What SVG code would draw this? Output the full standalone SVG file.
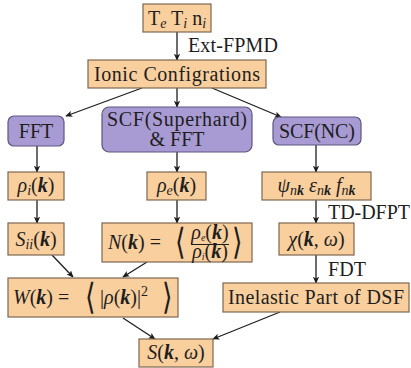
<svg xmlns="http://www.w3.org/2000/svg" width="411" height="368" viewBox="0 0 411 368">
<defs>
<marker id="ah" viewBox="0 0 10 10" refX="9" refY="5" markerWidth="7" markerHeight="7" markerUnits="userSpaceOnUse" orient="auto">
<path d="M0,0.5 L10,5 L0,9.5 L2.5,5 Z" fill="#1a1a1a"/>
</marker>
<style>
.o{fill:#f9cf9e;stroke:#7d6650;stroke-width:1.2}
.p{fill:#a89bd3;stroke:#5e5680;stroke-width:1.2}
.t{font-family:"Liberation Serif",serif;font-size:20px;fill:#1e1e1e}
.m{font-family:"Liberation Serif",serif;font-size:20px;fill:#1e1e1e;font-style:italic}
.b{font-weight:bold}
.r{font-style:normal}
.br{font-family:"Liberation Serif",serif;font-size:36px;fill:#1e1e1e}
.c{stroke:#1e1e1e;stroke-width:1.3;fill:none;marker-end:url(#ah)}
</style>
</defs>
<g id="connectors">
<line class="c" x1="177" y1="32" x2="177" y2="60"/>
<line class="c" x1="142" y1="88" x2="66" y2="116"/>
<line class="c" x1="177" y1="88" x2="177" y2="107"/>
<line class="c" x1="212" y1="88" x2="281" y2="117"/>
<line class="c" x1="37" y1="145" x2="37" y2="172"/>
<line class="c" x1="177" y1="152" x2="177" y2="172"/>
<line class="c" x1="316" y1="145" x2="316" y2="172"/>
<line class="c" x1="37" y1="200" x2="37" y2="223"/>
<line class="c" x1="177" y1="200" x2="177" y2="223"/>
<line class="c" x1="316" y1="200" x2="316" y2="223"/>
<line class="c" x1="52" y1="255" x2="73" y2="277"/>
<line class="c" x1="147" y1="262" x2="123" y2="277"/>
<line class="c" x1="316" y1="255" x2="316" y2="283"/>
<line class="c" x1="123" y1="318" x2="155" y2="339"/>
<line class="c" x1="280" y1="312" x2="213" y2="339"/>
<text class="t" x="188" y="52" font-size="19" textLength="90">Ext-FPMD</text>
<text class="t" x="328" y="219" font-size="19" textLength="82">TD-DFPT</text>
<text class="t" x="328" y="276" font-size="19" textLength="38">FDT</text>
</g>
<g id="inputs">
<rect class="o" x="143" y="4" width="68" height="28"/>
<text class="t" x="177" y="25" text-anchor="middle">T<tspan font-style="italic" font-size="14" dy="3">e</tspan><tspan dy="-3"> T</tspan><tspan font-style="italic" font-size="14" dy="3">i</tspan><tspan dy="-3"> n</tspan><tspan font-style="italic" font-size="14" dy="3">i</tspan></text>
</g>
<g id="ionic">
<rect class="o" x="88" y="60" width="178" height="28"/>
<text class="t" x="177" y="81" text-anchor="middle" font-size="21" textLength="166">Ionic Configrations</text>
</g>
<g id="fft">
<rect class="p" x="8" y="116" width="56" height="30" rx="6"/>
<text class="t" x="36" y="138" text-anchor="middle">FFT</text>
</g>
<g id="scf-superhard">
<rect class="p" x="102" y="107" width="150" height="45" rx="7"/>
<text class="t" x="177" y="126" text-anchor="middle" textLength="140">SCF(Superhard)</text>
<text class="t" x="177" y="146" text-anchor="middle">&amp; FFT</text>
</g>
<g id="scf-nc">
<rect class="p" x="273" y="117" width="88" height="28" rx="6"/>
<text class="t" x="317" y="138" text-anchor="middle" textLength="76">SCF(NC)</text>
</g>
<g id="rho-i">
<rect class="o" x="8" y="172" width="56" height="28"/>
<text class="m" x="36" y="192" text-anchor="middle">ρ<tspan font-size="14" dy="3">i</tspan><tspan class="r" dy="-3">(</tspan><tspan class="b">k</tspan><tspan class="r">)</tspan></text>
</g>
<g id="rho-e">
<rect class="o" x="147" y="172" width="59" height="28"/>
<text class="m" x="176.5" y="192" text-anchor="middle">ρ<tspan font-size="14" dy="3">e</tspan><tspan class="r" dy="-3">(</tspan><tspan class="b">k</tspan><tspan class="r">)</tspan></text>
</g>
<g id="psi">
<rect class="o" x="262" y="172" width="109" height="28"/>
<text class="m" x="316.5" y="192" text-anchor="middle">ψ<tspan font-size="14" dy="3">n<tspan class="b">k</tspan></tspan><tspan dy="-3"> ε</tspan><tspan font-size="14" dy="3">n<tspan class="b">k</tspan></tspan><tspan dy="-3"> f</tspan><tspan font-size="14" dy="3">n<tspan class="b">k</tspan></tspan></text>
</g>
<g id="sii">
<rect class="o" x="8" y="223" width="56" height="32"/>
<text class="m" x="36" y="246" text-anchor="middle">S<tspan font-size="14" dy="3">ii</tspan><tspan class="r" dy="-3">(</tspan><tspan class="b">k</tspan><tspan class="r">)</tspan></text>
</g>
<g id="nk">
<rect class="o" x="102" y="223" width="150" height="39"/>
<text class="m" x="108" y="249">N<tspan class="r">(</tspan><tspan class="b">k</tspan><tspan class="r">) = </tspan></text>
<text class="br" x="0" y="0" transform="translate(175,254) scale(0.75,1)">⟨</text>
<text class="m" x="210" y="239" text-anchor="middle" font-size="14">ρ<tspan font-size="10" dy="2">e</tspan><tspan class="r" dy="-2">(</tspan><tspan class="b">k</tspan><tspan class="r">)</tspan></text>
<line x1="191" y1="244.5" x2="229" y2="244.5" stroke="#1e1e1e" stroke-width="1"/>
<text class="m" x="210" y="258" text-anchor="middle" font-size="14">ρ<tspan font-size="10" dy="2">i</tspan><tspan class="r" dy="-2">(</tspan><tspan class="b">k</tspan><tspan class="r">)</tspan></text>
<text class="br" x="0" y="0" transform="translate(232,254) scale(0.75,1)">⟩</text>
</g>
<g id="chi">
<rect class="o" x="279" y="223" width="75" height="32"/>
<text class="m" x="316.5" y="246" text-anchor="middle">χ<tspan class="r">(</tspan><tspan class="b">k</tspan><tspan class="r">, </tspan>ω<tspan class="r">)</tspan></text>
</g>
<g id="wk">
<rect class="o" x="8" y="278" width="170" height="39"/>
<text class="m" x="13" y="304">W<tspan class="r">(</tspan><tspan class="b">k</tspan><tspan class="r">) = </tspan></text>
<text class="br" x="0" y="0" transform="translate(85,309) scale(0.75,1)">⟨</text>
<text class="m" x="100" y="304"><tspan class="r">|</tspan>ρ<tspan class="r">(</tspan><tspan class="b">k</tspan><tspan class="r">)|</tspan><tspan class="r" font-size="14" dy="-8">2</tspan></text>
<text class="br" x="0" y="0" transform="translate(162,309) scale(0.75,1)">⟩</text>
</g>
<g id="inelastic">
<rect class="o" x="223" y="283" width="186" height="29"/>
<text class="t" x="316" y="304" text-anchor="middle" font-size="21" textLength="176">Inelastic Part of DSF</text>
</g>
<g id="skw">
<rect class="o" x="139" y="339" width="74" height="28"/>
<text class="m" x="176" y="359" text-anchor="middle">S<tspan class="r">(</tspan><tspan class="b">k</tspan><tspan class="r">, </tspan>ω<tspan class="r">)</tspan></text>
</g>
</svg>
